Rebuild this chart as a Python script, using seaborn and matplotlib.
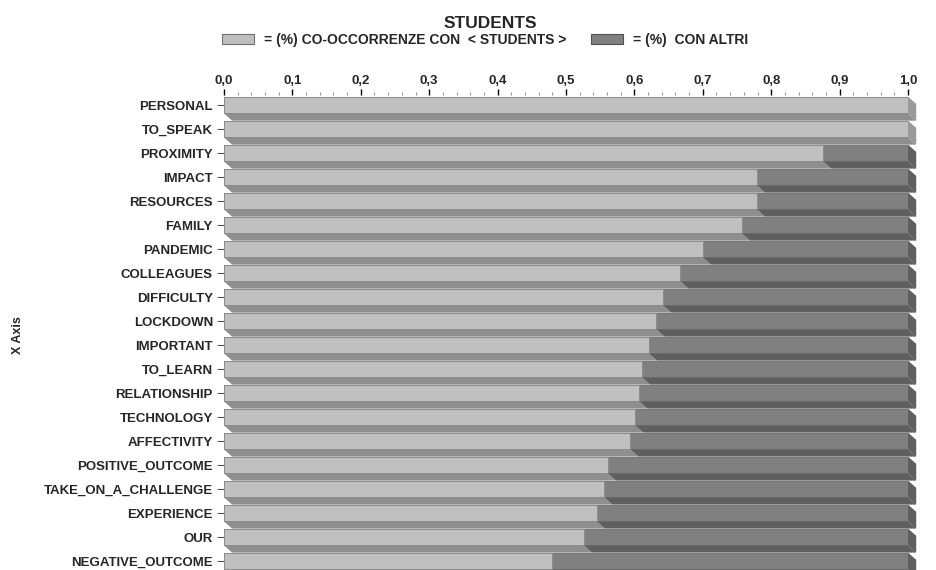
import seaborn as sns
import matplotlib.pyplot as plt
import pandas as pd
from matplotlib.patches import Polygon, Patch
from matplotlib.ticker import MultipleLocator, FuncFormatter


words = ['PERSONAL', 'TO_SPEAK', 'PROXIMITY', 'IMPACT', 'RESOURCES', 'FAMILY',
         'PANDEMIC', 'COLLEAGUES', 'DIFFICULTY', 'LOCKDOWN', 'IMPORTANT',
         'TO_LEARN', 'RELATIONSHIP', 'TECHNOLOGY', 'AFFECTIVITY',
         'POSITIVE_OUTCOME', 'TAKE_ON_A_CHALLENGE', 'EXPERIENCE', 'OUR',
         'NEGATIVE_OUTCOME']
co_occ = [1.0, 1.0, 0.876, 0.779, 0.779, 0.757, 0.700, 0.667, 0.642, 0.632,
          0.621, 0.611, 0.607, 0.601, 0.594, 0.561, 0.556, 0.545, 0.526, 0.480]
others = [round(1 - v, 3) for v in co_occ]
xticks = [0.0, 0.1, 0.2, 0.3, 0.4, 0.5, 0.6, 0.7, 0.8, 0.9, 1.0]

df = pd.DataFrame({'word': words, 'co_occ': co_occ, 'others': others})
df['total'] = df['co_occ'] + df['others']

sns.set_style('white')
plt.rcParams['font.family'] = ['Liberation Sans', 'DejaVu Sans']
plt.rcParams['font.weight'] = 'bold'

LIGHT, LIGHT_D = '#c0c0c0', '#8e8e8e'
DARK, DARK_D = '#808080', '#5f5f5f'

fig = plt.figure(figsize=(9.37, 5.7), dpi=100)
ax = fig.add_axes([224 / 937, 0, 684 / 937, 475 / 570])

half = 0.35   # metà altezza faccia
depth = 0.30  # spessore "3D"
dx = 0.012

# barre: prima il totale (scuro), poi la parte chiara sopra
sns.barplot(data=df, x='total', y='word', color=DARK, saturation=1, orient='h',
            width=2 * half, edgecolor='#6a6a6a', linewidth=0.6, ax=ax)
sns.barplot(data=df, x='co_occ', y='word', color=LIGHT, saturation=1, orient='h',
            width=2 * half, edgecolor='#8a8a8a', linewidth=0.6, ax=ax)

# effetto profondità sotto e a destra
for i, (v, t) in enumerate(zip(df['co_occ'], df['total'])):
    yt, yb = i - half, i + half
    ax.add_patch(Polygon([(0, yb), (v, yb), (v + dx, yb + depth), (dx, yb + depth)],
                         closed=True, fc=LIGHT_D, ec='none', clip_on=False, zorder=1))
    if t - v > 0.001:
        ax.add_patch(Polygon([(v, yb), (t, yb), (t + dx, yb + depth), (v + dx, yb + depth)],
                             closed=True, fc=DARK_D, ec='none', clip_on=False, zorder=1))
    side = DARK_D if t - v > 0.001 else '#9a9a9a'
    ax.add_patch(Polygon([(t, yt), (t + dx, yt + depth), (t + dx, yb + depth), (t, yb)],
                         closed=True, fc=side, ec='none', clip_on=False, zorder=1))

ax.set_xlim(0, 1.0)
ax.set_ylim(19.375, -0.42)
for s in ax.spines.values():
    s.set_visible(False)

ax.xaxis.set_ticks_position('top')
ax.set_xticks(xticks)
ax.xaxis.set_minor_locator(MultipleLocator(0.02))
ax.xaxis.set_major_formatter(FuncFormatter(lambda x, p: f'{x:.1f}'.replace('.', ',')))
ax.tick_params(axis='x', which='major', top=True, bottom=False, labeltop=True,
               labelbottom=False, length=4, width=1, color='black', pad=2, labelsize=9.5)
ax.tick_params(axis='x', which='minor', top=True, bottom=False, length=2, width=0.8,
               color='#999999')
ax.tick_params(axis='y', left=True, length=5, width=0.8, color='#555555', pad=3,
               labelsize=9.5)
for lab in ax.get_xticklabels() + ax.get_yticklabels():
    lab.set_fontweight('bold')

ax.set_xlabel('')
ax.set_ylabel('X Axis', fontsize=9, fontweight='bold')
ax.yaxis.set_label_coords(-200 / 684, 0.494)

fig.text(490 / 937, 1 - 23 / 570, 'STUDENTS', ha='center', va='center',
         fontsize=12.5, fontweight='bold')

handles = [Patch(fc=LIGHT, ec='#707070', lw=0.8), Patch(fc=DARK, ec='#505050', lw=0.8)]
labels = ['= (%) CO-OCCORRENZE CON  < STUDENTS >', '= (%)  CON ALTRI']
fig.legend(handles, labels, loc='center left', bbox_to_anchor=(222 / 937, 1 - 40 / 570),
           ncol=2, frameon=False, handlelength=2.3, handleheight=0.8,
           handletextpad=0.7, columnspacing=1.8, borderpad=0, borderaxespad=0,
           prop={'weight': 'bold', 'size': 10})

plt.savefig('out.png', dpi=100)
